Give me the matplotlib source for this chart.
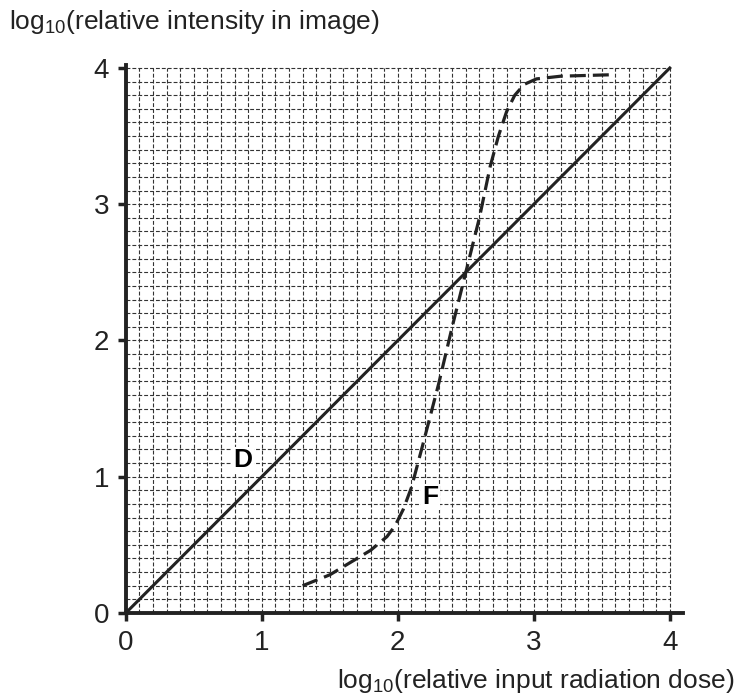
import numpy as np
import matplotlib.pyplot as plt

plt.rcParams['font.family'] = ['Liberation Sans', 'DejaVu Sans']
plt.rcParams['mathtext.fontset'] = 'custom'
plt.rcParams['mathtext.rm'] = 'Liberation Sans'

# line D: straight
d_x = [0, 4]
d_y = [0, 4]

# curve F
f_x = [1.30, 1.50, 1.65, 1.80, 1.92, 1.98, 2.04, 2.10, 2.18, 2.30, 2.40, 2.50,
       2.60, 2.68, 2.74, 2.80, 2.86, 2.93, 3.02, 3.20, 3.56]
f_y = [0.20, 0.28, 0.37, 0.46, 0.56, 0.64, 0.76, 0.92, 1.22, 1.68, 2.10, 2.50,
       2.90, 3.28, 3.50, 3.68, 3.80, 3.88, 3.92, 3.94, 3.95]

xticks = [0, 1, 2, 3, 4]
yticks = [0, 1, 2, 3, 4]

fig = plt.figure(figsize=(7.4, 6.98), dpi=100)
ax = fig.add_axes([0.170, 0.1218, 0.7535, 0.7847])

g = np.arange(0, 4.001, 0.1)
ax.vlines(g, 0, 4, colors='#333333', linewidth=0.8, linestyles=(0, (3.5, 1.8)), zorder=1)
ax.hlines(g, 0, 4, colors='#333333', linewidth=0.8, linestyles=(0, (3.5, 1.8)), zorder=1)

ax.plot(d_x, d_y, color='#222222', linewidth=2.2, zorder=3)
ax.plot(f_x, f_y, color='#222222', linewidth=2.3, dashes=(5, 2.2), zorder=3)

ax.text(0.86, 1.12, 'D', fontsize=19, fontweight='bold', ha='center', va='center',
        bbox=dict(facecolor='white', edgecolor='none', pad=1), zorder=4)
ax.text(2.24, 0.85, 'F', fontsize=19, fontweight='bold', ha='center', va='center',
        bbox=dict(facecolor='white', edgecolor='none', pad=1), zorder=4)

ax.set_xlim(0, 4.1)
ax.set_ylim(0, 4.02)
ax.set_xticks(xticks)
ax.set_yticks(yticks)
ax.tick_params(labelsize=20, width=2.5, length=6, pad=6, direction='out', colors='#222222')
for s in ['top', 'right']:
    ax.spines[s].set_visible(False)
for s in ['left', 'bottom']:
    ax.spines[s].set_linewidth(2.8)
    ax.spines[s].set_color('#222222')

fig.text(0.012, 0.968, r'log$_{\mathrm{10}}$(relative intensity in image)', fontsize=19,
         ha='left', va='center', color='#222222')
fig.text(0.993, 0.025, r'log$_{\mathrm{10}}$(relative input radiation dose)', fontsize=19,
         ha='right', va='center', color='#222222')

plt.savefig('out.png', dpi=100)
